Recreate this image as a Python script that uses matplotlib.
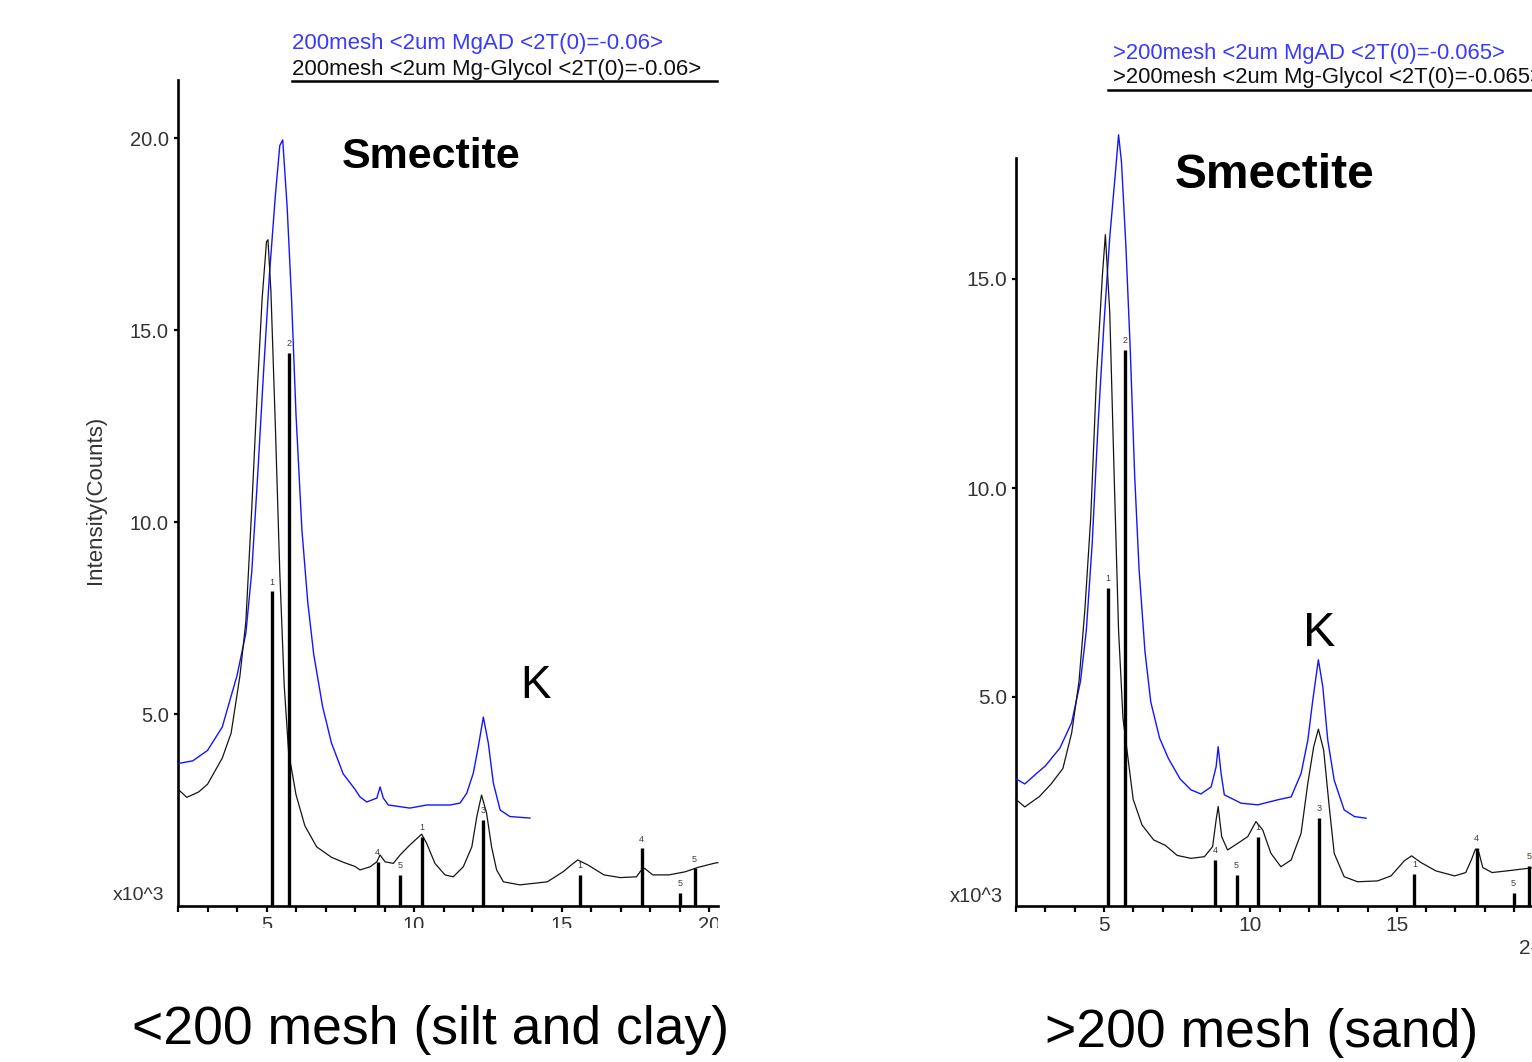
import matplotlib.pyplot as plt
from matplotlib.patches import Rectangle
from matplotlib.ticker import MultipleLocator

plt.rcParams['font.family'] = ['Liberation Sans', 'DejaVu Sans']

# ---- <200 mesh (left) ----
left_blue_tt = [2.0, 2.5, 3.0, 3.5, 4.0, 4.3, 4.5, 4.7, 4.9, 5.1, 5.3, 5.45, 5.55, 5.7, 5.85,
                6.0, 6.2, 6.4, 6.6, 6.9, 7.2, 7.6, 8.0, 8.17, 8.4, 8.74, 8.85, 8.96, 9.13, 9.86,
                10.43, 11.22, 11.56, 11.79, 12.01, 12.18, 12.35, 12.52, 12.69, 12.92, 13.25, 13.93]
left_blue_i = [3.71, 3.78, 4.05, 4.66, 6.0, 7.1, 8.7, 11.2, 13.9, 16.45, 18.5, 19.8, 19.95, 18.2, 15.8,
               12.8, 9.8, 7.9, 6.56, 5.2, 4.25, 3.44, 3.04, 2.84, 2.71, 2.81, 3.1, 2.81, 2.63, 2.55,
               2.63, 2.63, 2.68, 2.94, 3.46, 4.15, 4.92, 4.24, 3.2, 2.5, 2.33, 2.29]

left_black_tt = [2.0, 2.3, 2.7, 3.0, 3.5, 3.8, 4.1, 4.3, 4.5, 4.7, 4.85, 5.0, 5.05, 5.15, 5.3,
                 5.45, 5.6, 5.75, 6.0, 6.3, 6.7, 7.2, 7.6, 8.0, 8.17, 8.51, 8.74, 8.85, 9.02, 9.3,
                 9.53, 9.86, 10.26, 10.43, 10.71, 11.05, 11.33, 11.67, 11.96, 12.13, 12.29, 12.46,
                 12.63, 12.8, 13.03, 13.59, 14.52, 15.07, 15.3, 15.55, 15.89, 16.44, 16.99, 17.54,
                 17.72, 17.82, 18.09, 18.64, 19.19, 19.6, 20.16, 20.3]
left_black_i = [3.04, 2.83, 2.97, 3.17, 3.85, 4.5, 6.0, 7.4, 10.35, 13.6, 15.8, 17.3, 17.35, 16.0, 12.5,
                8.7, 5.75, 4.0, 2.9, 2.09, 1.54, 1.27, 1.14, 1.03, 0.94, 1.02, 1.15, 1.33, 1.15, 1.11,
                1.33, 1.59, 1.87, 1.63, 1.11, 0.81, 0.76, 1.02, 1.54, 2.33, 2.89, 2.42,
                1.54, 0.94, 0.63, 0.55, 0.63, 0.9, 1.05, 1.2, 1.07, 0.81, 0.74, 0.76,
                0.95, 0.98, 0.81, 0.81, 0.89, 1.0, 1.11, 1.13]

left_stick_tt = [5.17, 5.76, 8.77, 9.52, 10.27, 12.35, 15.62, 17.72, 19.01, 19.51]
left_stick_h = [8.2, 14.4, 1.15, 0.81, 1.8, 2.25, 0.81, 1.5, 0.35, 0.98]
left_stick_lab = ['1', '2', '4', '5', '1', '3', '1', '4', '5', '5']

# ---- >200 mesh (right) ----
right_blue_tt = [2.0, 2.3, 2.7, 3.0, 3.5, 3.9, 4.2, 4.4, 4.6, 4.8, 5.0, 5.2, 5.4, 5.5, 5.6,
                 5.75, 5.9, 6.05, 6.2, 6.4, 6.6, 6.9, 7.2, 7.6, 7.97, 8.31, 8.66, 8.83, 8.9, 9.0,
                 9.11, 9.68, 10.25, 10.93, 11.39, 11.73, 11.96, 12.13, 12.32, 12.47, 12.64, 12.86,
                 13.2, 13.55, 13.95]
right_blue_i = [3.04, 2.92, 3.17, 3.35, 3.78, 4.39, 5.37, 6.59, 8.67, 11.5, 13.9, 16.0, 17.6, 18.45, 17.8,
                15.8, 13.3, 10.3, 8.06, 6.1, 4.88, 4.02, 3.53, 3.04, 2.78, 2.68, 2.85, 3.33, 3.81, 3.17,
                2.66, 2.46, 2.42, 2.54, 2.61, 3.17, 3.97, 4.93, 5.89, 5.25, 3.97, 3.01,
                2.3, 2.14, 2.1]

right_black_tt = [2.0, 2.3, 2.8, 3.2, 3.6, 3.9, 4.15, 4.35, 4.55, 4.75, 4.95, 5.05, 5.2, 5.35, 5.5,
                  5.65, 5.8, 6.0, 6.3, 6.7, 7.1, 7.5, 7.97, 8.43, 8.71, 8.83, 8.9, 9.02, 9.22, 9.57,
                  9.91, 10.19, 10.42, 10.7, 11.04, 11.39, 11.73, 11.96, 12.16, 12.32, 12.5, 12.69,
                  12.86, 13.2, 13.66, 14.34, 14.8, 15.25, 15.5, 15.82, 16.33, 16.97, 17.35, 17.55,
                  17.68, 17.8, 17.93, 18.25, 18.88, 19.46, 20.3]
right_black_i = [2.55, 2.37, 2.62, 2.92, 3.29, 4.14, 5.37, 7.08, 9.28, 12.7, 15.1, 16.06, 14.2, 10.3, 6.6,
                 4.5, 3.66, 2.55, 1.94, 1.58, 1.45, 1.21, 1.14, 1.18, 1.42, 2.06, 2.38, 1.66, 1.34, 1.5,
                 1.66, 2.02, 1.82, 1.26, 0.94, 1.1, 1.74, 2.94, 3.81, 4.23, 3.73, 2.38,
                 1.26, 0.7, 0.58, 0.6, 0.72, 1.08, 1.2, 1.04, 0.84, 0.72, 0.8, 1.12,
                 1.36, 1.28, 0.92, 0.8, 0.85, 0.9, 0.95]

right_stick_tt = [5.13, 5.72, 8.79, 9.53, 10.27, 12.35, 15.6, 17.72, 18.98, 19.5]
right_stick_h = [7.6, 13.3, 1.1, 0.74, 1.66, 2.1, 0.76, 1.38, 0.32, 0.95]
right_stick_lab = ['1', '2', '4', '5', '1', '3', '1', '4', '5', '5']

left_legend = ['200mesh <2um MgAD <2T(0)=-0.06>', '200mesh <2um Mg-Glycol <2T(0)=-0.06>']
right_legend = ['>200mesh <2um MgAD <2T(0)=-0.065>', '>200mesh <2um Mg-Glycol <2T(0)=-0.065>']

BLUE = '#1414ff'
LABEL_GREY = '#333333'
W, H = 1532, 1062

fig = plt.figure(figsize=(W / 100, H / 100), dpi=100)


def fx(px):
    return px / W


def fy(py):
    return 1 - py / H


def make_panel(rect, ylim, yticks, blue, black, sticks, tick_fs):
    ax = fig.add_axes(rect)
    ax.plot(blue[0], blue[1], color=BLUE, lw=1.0, clip_on=False, zorder=3)
    ax.plot(black[0], black[1], color='#151515', lw=0.9, clip_on=False, zorder=3)
    tt, hh, labs = sticks
    ax.vlines(tt, 0, hh, color='black', lw=2.4, zorder=4)
    for t, h, lab in zip(tt, hh, labs):
        ax.text(t, h + 0.12, lab, fontsize=6.5, ha='center', va='bottom', color='#4a3a2a')
    ax.set_xlim(2, 20.3)
    ax.set_ylim(*ylim)
    for s in ['top', 'right']:
        ax.spines[s].set_visible(False)
    for s in ['left', 'bottom']:
        ax.spines[s].set_linewidth(1.9)
    ax.set_xticks([5, 10, 15, 20])
    ax.xaxis.set_minor_locator(MultipleLocator(1))
    ax.tick_params(axis='x', which='both', direction='out', length=4.5, width=1.6,
                   labelsize=tick_fs, pad=3, labelcolor=LABEL_GREY)
    ax.set_yticks(yticks)
    ax.set_yticklabels([f'{v:.1f}' for v in yticks])
    ax.tick_params(axis='y', direction='out', length=3, width=1.6, labelsize=tick_fs,
                   pad=3.5, labelcolor=LABEL_GREY)
    ax.patch.set_alpha(0)
    return ax


# left panel: x=2 at px 178, 29.5 px per degree; y 38.4 px per 1e3 counts, zero at py 906
axL = make_panel([fx(178), fy(906), 18.3 * 29.5 / W, 826 / H], (0, 826 / 38.4), [5, 10, 15, 20],
                 (left_blue_tt, left_blue_i), (left_black_tt, left_black_i),
                 (left_stick_tt, left_stick_h, left_stick_lab), 14.5)
# right panel: x=2 at px 1016, 29.3 px per degree; y 41.8 px per unit
axR = make_panel([fx(1016), fy(906), 18.3 * 29.3 / W, 748 / H], (0, 748 / 41.8), [5, 10, 15],
                 (right_blue_tt, right_blue_i), (right_black_tt, right_black_i),
                 (right_stick_tt, right_stick_h, right_stick_lab), 15)

# labels inside / around panels
fig.text(fx(95), fy(500), 'Intensity(Counts)', rotation=90, ha='center', va='center',
         fontsize=16, color=LABEL_GREY)
fig.text(fx(139), fy(896), 'x10^3', ha='center', va='center', fontsize=14, color=LABEL_GREY)
fig.text(fx(976), fy(896), 'x10^3', ha='center', va='center', fontsize=14.5, color=LABEL_GREY)
fig.text(fx(1519), fy(948), '2-Theta - Scale', ha='left', va='center', fontsize=15, color=LABEL_GREY)

fig.text(fx(431), fy(157), 'Smectite', ha='center', va='center', fontsize=31, fontweight='bold')
fig.text(fx(535), fy(686), 'K', ha='center', va='center', fontsize=33)
fig.text(fx(1275), fy(176), 'Smectite', ha='center', va='center', fontsize=34.5, fontweight='bold')
fig.text(fx(1319), fy(633), 'K', ha='center', va='center', fontsize=35)

# legends with underline
fig.text(fx(292), fy(44), left_legend[0], ha='left', va='center', fontsize=16, color='#3a3aff')
fig.text(fx(292), fy(69), left_legend[1], ha='left', va='center', fontsize=16, color='#111111')
fig.add_artist(plt.Line2D([fx(292), fx(717)], [fy(81), fy(81)], color='black', lw=1.8))
fig.text(fx(1113), fy(53), right_legend[0], ha='left', va='center', fontsize=15.8, color='#3a3aff')
fig.text(fx(1113), fy(78), right_legend[1], ha='left', va='center', fontsize=15.8, color='#111111')
fig.add_artist(plt.Line2D([fx(1108), fx(1532)], [fy(90), fy(90)], color='black', lw=1.8))

# left screenshot was cropped just below the tick labels
fig.add_artist(Rectangle((fx(60), fy(990)), fx(700), (990 - 928) / H, transform=fig.transFigure,
                         facecolor='white', edgecolor='none', zorder=10))
fig.add_artist(Rectangle((fx(718), fy(935)), fx(60), 25 / H, transform=fig.transFigure,
                         facecolor='white', edgecolor='none', zorder=10))

# captions
fig.text(fx(431), fy(1030), '<200 mesh (silt and clay)', ha='center', va='center', fontsize=38.5)
fig.text(fx(1262), fy(1033), '>200 mesh (sand)', ha='center', va='center', fontsize=38.5)

fig.savefig('out.png', dpi=100)
